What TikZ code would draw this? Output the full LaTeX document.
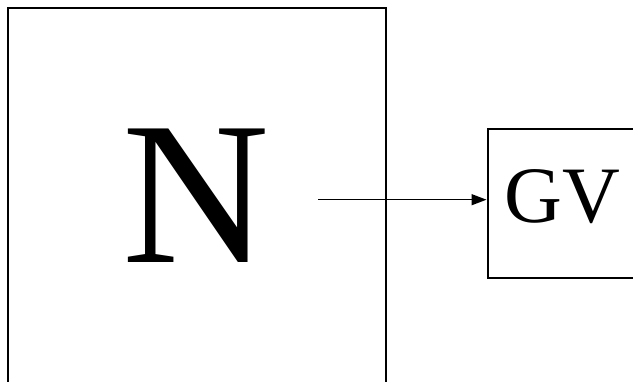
\documentclass[tikz,border=0pt]{standalone}
\usepackage{fontspec}
\setmainfont{Liberation Serif}
\usetikzlibrary{arrows.meta}
\begin{document}
\begin{tikzpicture}[x=1pt,y=-1pt,
  boxstyle/.style={draw=black, line width=2pt, rectangle, inner sep=0pt, anchor=north west},
  conn/.style={line width=1.5pt, -{Triangle[length=15pt,width=11pt]}}]
\useasboundingbox (0,0) rectangle (633,382);
\clip (0,0) rectangle (633,382);
\fill[white] (0,0) rectangle (633,382);
\node[boxstyle, minimum width=378pt, minimum height=400pt] (nbox) at (7,7.5) {};
\node[inner sep=0pt] (n) at (196,195.5) {\fontsize{204}{204}\selectfont N};
\node[inner sep=0pt] (gvt) at (562.5,196.5) {\fontsize{80}{80}\selectfont GV};
\node[boxstyle, minimum width=170pt, minimum height=149pt] (gv) at (486.5,128) {};
\coordinate (start) at (318,199.7);
\draw[conn] (start) -- (start -| gv.west);
\end{tikzpicture}
\end{document}
